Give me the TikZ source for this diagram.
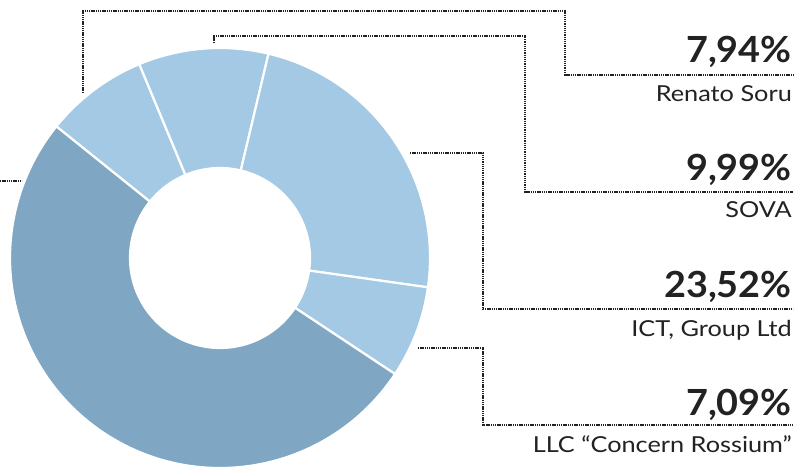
\documentclass[tikz,border=0pt]{standalone}
\usepackage{fontspec}
\setmainfont{Lato}
\newfontfamily\labelfont[FakeStretch=1.15]{Lato}
\newfontfamily\pctfont[FakeStretch=1.05]{Lato}
\definecolor{lightseg}{RGB}{163,201,228}
\definecolor{darkseg}{RGB}{127,167,196}
\definecolor{ink}{RGB}{34,34,34}
\newcommand\dseg[3]{\fill[#3,draw=white,line width=2.2pt] (#1:210pt) arc[start angle=#1,end angle=#2,radius=210pt] -- (#2:90pt) arc[start angle=#2,end angle=#1,radius=90pt] -- cycle;}
\begin{document}
\begin{tikzpicture}[x=1pt,y=-1pt,
  lead/.style={draw=ink,line width=1.8pt,dash pattern=on 1.3pt off 0.9pt},
  pct/.style={anchor=base east,inner sep=0pt,font=\pctfont\fontsize{36}{36}\selectfont\bfseries,text=ink},
  who/.style={anchor=base east,inner sep=0pt,font=\labelfont\fontsize{22}{22}\selectfont,text=ink}]
\useasboundingbox (0,0) rectangle (797,468);
\fill[white] (0,0) rectangle (797,468);
\begin{scope}[shift={(220,258)}]
\dseg{141.2}{112.6}{lightseg}
\dseg{112.6}{76.64}{lightseg}
\dseg{76.64}{-8.03}{lightseg}
\dseg{-8.03}{-33.55}{lightseg}
\dseg{-33.55}{-218.8}{darkseg}
\end{scope}
% labels
\node[pct] (p1) at (792,63) {7,94\%};
\node[who] (n1) at (792,102) {Renato Soru};
\node[pct] (p2) at (792,180) {9,99\%};
\node[who] (n2) at (792,217) {SOVA};
\node[pct] (p3) at (792,297) {23,52\%};
\node[who] (n3) at (792,336) {ICT, Group Ltd};
\node[pct] (p4) at (792,415) {7,09\%};
\node[who] (n4) at (792,452) {LLC “Concern Rossium”};
% leader points
\coordinate (r0) at (83,93); \coordinate (r1) at (83,11); \coordinate (r2) at (565,11); \coordinate (r3) at (565,75); \coordinate (r4) at (793,75);
\coordinate (s0) at (214,43); \coordinate (s1) at (214,36); \coordinate (s2) at (525,36); \coordinate (s3) at (525,192); \coordinate (s4) at (793,192);
\coordinate (i0) at (410,153); \coordinate (i1) at (483,153); \coordinate (i2) at (483,309); \coordinate (i3) at (793,309);
\coordinate (l0) at (418,348); \coordinate (l1) at (483,348); \coordinate (l2) at (483,425); \coordinate (l3) at (793,425);
\coordinate (b0) at (0,181); \coordinate (b1) at (22,181);
\draw[lead] (r0) -- (r1) -- (r2) -- (r3) -- (r4);
\draw[lead] (s0) -- (s1) -- (s2) -- (s3) -- (s4);
\draw[lead] (i0) -- (i1) -- (i2) -- (i3);
\draw[lead] (l0) -- (l1) -- (l2) -- (l3);
\draw[lead] (b0) -- (b1);
\end{tikzpicture}
\end{document}
